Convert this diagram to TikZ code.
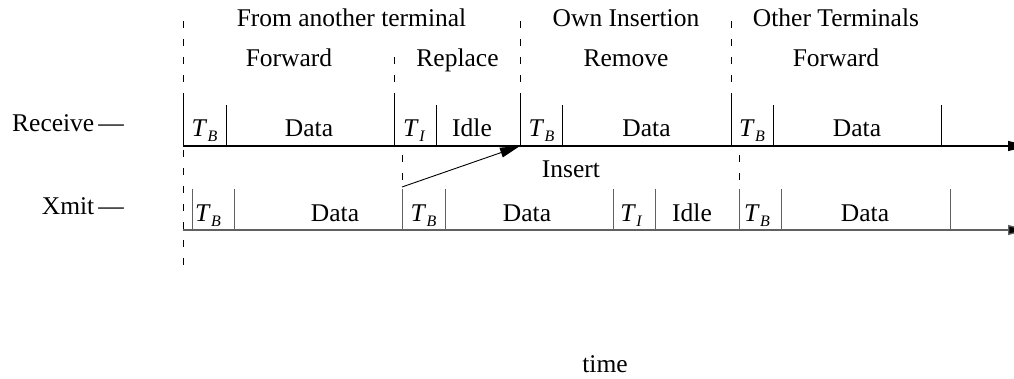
\documentclass[tikz,border=0pt]{standalone}
\usepackage{fontspec}
\setmainfont{Liberation Serif}
\usetikzlibrary{arrows.meta}
% T with an italic subscript letter, as in T_B and T_I
\newcommand\Tsb[1]{\textit{T}\kern0.5pt\raisebox{-5pt}{\fontsize{16}{16}\selectfont\itshape #1}}

\begin{document}
\begin{tikzpicture}[x=1pt,y=-1pt,
  lbl/.style={inner sep=0pt, anchor=base, font=\fontsize{25.5}{30}\selectfont},
  rowlbl/.style={lbl, anchor=base east},
  rxtick/.style={line width=1pt},
  txtick/.style={line width=1pt, draw=black!62},
  bound/.style={line width=1pt, dash pattern=on 7pt off 11pt},
  axis/.style={line width=1.3pt, -{Triangle[length=20pt,width=10pt]}},
  insarrow/.style={line width=0.9pt, -{Triangle[length=20pt,width=10pt]}}]
\useasboundingbox (0,0) rectangle (1014,379);

% ---------- axes ----------
\coordinate (rx0) at (183,146);
\coordinate (rxend) at (1028,146);
\coordinate (tx0) at (183,230);
\coordinate (txend) at (1028,230);
\draw[axis] (rx0) -- (rxend);
\draw[axis, draw=black!62, -{Triangle[length=20pt,width=10pt,fill=black]}] (tx0) -- (txend);

% ---------- section boundaries (dashed) ----------
\draw[bound] (183,21) -- (183,97);
\draw[bound] (183,150) -- (183,276);
\draw[bound] (394,57) -- (394,97);
\draw[bound] (520,21) -- (520,97);
\draw[bound] (731,21) -- (731,97);
\draw[bound] (402,155) -- (402,189);
\draw[bound] (739,155) -- (739,189);

% ---------- receive frame ticks ----------
\foreach \x in {183,394,520,731}
  \draw[rxtick] (\x,97) -- (\x,146);
\foreach \x in {226,436,562,773,941}
  \draw[rxtick] (\x,105) -- (\x,146);

% ---------- transmit frame ticks ----------
\foreach \x in {192,234,402,445,613,655,739,781,950}
  \draw[txtick] (\x,189) -- (\x,230);

% ---------- insertion arrow ----------
\coordinate (insfrom) at (402,187);
\coordinate (insto) at (520,146);
\draw[insarrow] (insfrom) -- (insto);

% ---------- headings ----------
\node[lbl] (h1) at (351.5,27) {From another terminal};
\node[lbl] (h2) at (626,27) {Own Insertion};
\node[lbl] (h3) at (836,27) {Other Terminals};
\node[lbl] (s1) at (289,67) {Forward};
\node[lbl] (s2) at (457.5,67) {Replace};
\node[lbl] (s3) at (626,67) {Remove};
\node[lbl] (s4) at (836,67) {Forward};

% ---------- row labels ----------
\node[rowlbl] (lrx) at (124,132) {Receive\kern4pt---};
\node[rowlbl] (ltx) at (124,215) {Xmit\kern4pt---};

% ---------- receive fields ----------
\node[lbl] (r1) at (204.5,137) {\Tsb{B}};
\node[lbl] (r2) at (309,137) {Data};
\node[lbl] (r3) at (414,137) {\Tsb{I}};
\node[lbl] (r4) at (472,137) {Idle};
\node[lbl] (r5) at (541.5,137) {\Tsb{B}};
\node[lbl] (r6) at (646.5,137) {Data};
\node[lbl] (r7) at (752,137) {\Tsb{B}};
\node[lbl] (r8) at (857,137) {Data};

% ---------- transmit fields ----------
\node[lbl] (t1) at (208,222) {\Tsb{B}};
\node[lbl] (t2) at (335,222) {Data};
\node[lbl] (t3) at (423.5,222) {\Tsb{B}};
\node[lbl] (t4) at (527,222) {Data};
\node[lbl] (t5) at (631,222) {\Tsb{I}};
\node[lbl] (t6) at (692,222) {Idle};
\node[lbl] (t7) at (757,222) {\Tsb{B}};
\node[lbl] (t8) at (865,222) {Data};

% ---------- other labels ----------
\node[lbl] (ins) at (571,178) {Insert};
\node[lbl] (time) at (605,372) {time};
\end{tikzpicture}
\end{document}
